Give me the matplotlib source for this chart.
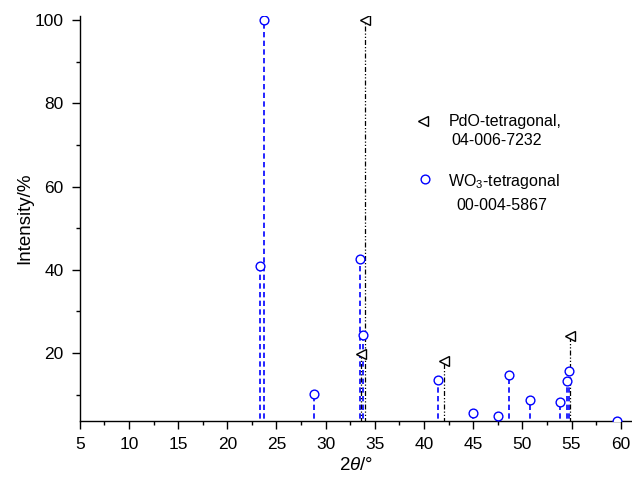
import matplotlib

matplotlib.use("Agg")
import matplotlib.pyplot as plt
from matplotlib.ticker import MultipleLocator

plt.rcParams["font.family"] = ["Liberation Sans", "DejaVu Sans"]
plt.rcParams["mathtext.fontset"] = "custom"
plt.rcParams["mathtext.rm"] = "Liberation Sans"
plt.rcParams["mathtext.it"] = "Liberation Sans:italic"

# reference pattern peaks: 2theta (deg) and relative intensity (%)
wo3_2theta = [23.32, 23.76, 28.84, 33.49, 33.83, 41.45, 44.95, 47.55, 48.6,
              50.8, 53.86, 54.54, 54.77, 59.6]
wo3_int = [40.9, 100, 10.2, 42.6, 24.3, 13.5, 5.5, 4.8, 14.7, 8.7, 8.2, 13.2,
           15.6, 3.7]

pdo_2theta = [33.56, 33.97, 42.0, 54.85]
pdo_int = [19.7, 100, 18.2, 24.1]

x_ticks = [5, 10, 15, 20, 25, 30, 35, 40, 45, 50, 55, 60]
y_ticks = [20, 40, 60, 80, 100]

pdo_label = ["PdO-tetragonal,", "04-006-7232"]
wo3_label = ["WO$_3$-tetragonal", "00-004-5867"]

BLUE = "#0000ff"

fig = plt.figure(figsize=(6.32, 4.83), dpi=100)
ax = fig.add_axes([0.1263, 0.1284, 0.8729, 0.8385])

# stick lines from the baseline, markers on top
ax.vlines(wo3_2theta, 0, wo3_int, colors=BLUE, linewidth=1.2,
          linestyles=[(0, (3.2, 2.0))], zorder=2)
ax.vlines(pdo_2theta, 0, pdo_int, colors="black", linewidth=0.9,
          linestyles=[(0, (4, 1.6, 1, 1.6, 1, 1.6))], zorder=2)
ax.plot(wo3_2theta, wo3_int, "o", ms=6.3, mfc="white", mec=BLUE, mew=1.0,
        zorder=3)
ax.plot(pdo_2theta, pdo_int, "<", ms=7.5, mfc="white", mec="black", mew=1.0,
        zorder=4)

# key, written beside the markers
ax.plot([39.93], [75.8], "<", ms=7.5, mfc="white", mec="black", mew=1.0)
ax.plot([40.09], [61.8], "o", ms=6.3, mfc="white", mec=BLUE, mew=1.0)
key_kw = dict(fontsize=11.5, va="baseline", ha="left")
ax.text(42.47, 74.45, pdo_label[0], **key_kw)
ax.text(42.81, 70.05, pdo_label[1], **key_kw)
ax.text(42.47, 60.2, wo3_label[0], **key_kw)
ax.text(43.32, 54.37, wo3_label[1], **key_kw)

ax.set_xlim(5, 61.1)
ax.set_ylim(3.68, 101.0)
ax.set_xticks(x_ticks)
ax.set_yticks(y_ticks)
ax.xaxis.set_minor_locator(MultipleLocator(2.5))
ax.yaxis.set_minor_locator(MultipleLocator(10))
ax.tick_params(which="both", direction="out", labelsize=12.5, pad=5.5,
               width=1.0, color="black")
ax.tick_params(which="major", length=6)
ax.tick_params(which="minor", length=3)

for side in ("top", "right"):
    ax.spines[side].set_visible(False)
for side in ("left", "bottom"):
    ax.spines[side].set_linewidth(1.0)

ax.set_xlabel(r"2$\it{\theta}$/°", fontsize=13.5)
ax.set_ylabel("Intensity/%", fontsize=13.5)
ax.xaxis.set_label_coords(0.5, -0.09)
ax.yaxis.set_label_coords(-0.085, 0.5)

fig.savefig("out.png", dpi=100)
plt.close(fig)
